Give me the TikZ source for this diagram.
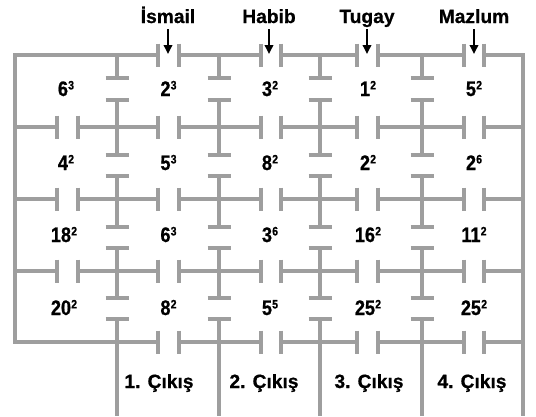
\documentclass[tikz,border=0pt]{standalone}
\usepackage{fontspec}
\setmainfont{Liberation Sans}[BoldFeatures={FakeBold=0.8}]
\newfontfamily\numfont{Liberation Sans}[FakeStretch=0.86,BoldFeatures={FakeBold=0.8}]
\usetikzlibrary{arrows.meta}
\definecolor{wall}{RGB}{158,158,158}
\newcommand{\pw}[2]{#1\kern0.2pt\raisebox{6.6pt}{\fontsize{12.2}{12.2}\selectfont #2}}
\begin{document}
\begin{tikzpicture}[x=1pt,y=-1pt,
  wallline/.style={draw=wall,line width=4.2pt},
  numtxt/.style={font=\numfont\bfseries\fontsize{21}{22}\selectfont,inner sep=0pt,anchor=base},
  lbltxt/.style={font=\bfseries\fontsize{19.2}{21}\selectfont,inner sep=0pt,anchor=base},
  arr/.style={-{Triangle[length=9pt,width=8.5pt]},line width=1.8pt,black}]
\useasboundingbox (0,0) rectangle (536,416);
\def\t{11.5}
% ---------- outer frame (left part with top and bottom left pieces)
\draw[wallline,line join=miter] (158,342) -- (15,342) -- (15,55) -- (158,55);
\draw[wallline] (158,55-\t) -- (158,55+\t) (158,342-\t) -- (158,342+\t);
% right frame
\draw[wallline,line join=miter] (484,55) -- (523,55) -- (523,416);
\draw[wallline] (484,55-\t) -- (484,55+\t);
\draw[wallline] (484,342) -- (523,342) (484,342-\t) -- (484,342+\t);
% ---------- horizontal walls
\foreach \yy in {55,342}{
  \foreach \xa/\xb in {179/261,281/357,378/464}{
    \draw[wallline] (\xa,\yy-\t) -- (\xa,\yy+\t) (\xa,\yy) -- (\xb,\yy) (\xb,\yy-\t) -- (\xb,\yy+\t);
  }
}
\foreach \yy in {127,199,271}{
  \draw[wallline] (15,\yy) -- (57,\yy) (57,\yy-\t) -- (57,\yy+\t);
  \foreach \xa/\xb in {78/158,179/261,281/357,378/464}{
    \draw[wallline] (\xa,\yy-\t) -- (\xa,\yy+\t) (\xa,\yy) -- (\xb,\yy) (\xb,\yy-\t) -- (\xb,\yy+\t);
  }
  \draw[wallline] (484,\yy-\t) -- (484,\yy+\t) (484,\yy) -- (523,\yy);
}
% ---------- vertical walls
\foreach \xx in {117,219,320,422}{
  \draw[wallline] (\xx,55) -- (\xx,78) (\xx-\t,78) -- (\xx+\t,78);
  \foreach \ya/\yb in {100/155,176/227,248/298}{
    \draw[wallline] (\xx-\t,\ya) -- (\xx+\t,\ya) (\xx,\ya) -- (\xx,\yb) (\xx-\t,\yb) -- (\xx+\t,\yb);
  }
  \draw[wallline] (\xx-\t,319) -- (\xx+\t,319) (\xx,319) -- (\xx,416);
}
% ---------- names and arrows
\foreach \cx/\nm/\nn in {168/İsmail/n1,269/Habib/n2,367/Tugay/n3,474/Mazlum/n4}{
  \node[lbltxt] (\nn) at (\cx,23) {\nm};
  \coordinate (\nn s) at (\cx,29);
  \coordinate (\nn e) at (\cx,54);
  \draw[arr] (\nn s) -- (\nn e);
}
% ---------- numbers
\foreach \cx/\a/\b/\c/\d [count=\k] in {66/6/3/4/2,168.5/2/3/5/3,270/3/2/8/2,368/1/2/2/2,474/5/2/2/6}{
  \node[numtxt] (r1c\k) at (\cx,96) {\pw{\a}{\b}};
  \node[numtxt] (r2c\k) at (\cx,170) {\pw{\c}{\d}};
}
\foreach \cx/\a/\b/\c/\d [count=\k] in {64/18/2/20/2,168.5/6/3/8/2,270/3/6/5/5,368/16/2/25/2,474/11/2/25/2}{
  \node[numtxt] (r3c\k) at (\cx,242) {\pw{\a}{\b}};
  \node[numtxt] (r4c\k) at (\cx,315) {\pw{\c}{\d}};
}
% ---------- exits
\node[lbltxt] (e1) at (159,388) {1. Çıkış};
\node[lbltxt] (e2) at (264,388) {2. Çıkış};
\node[lbltxt] (e3) at (369,388) {3. Çıkış};
\node[lbltxt] (e4) at (472,388) {4. Çıkış};
\end{tikzpicture}
\end{document}
